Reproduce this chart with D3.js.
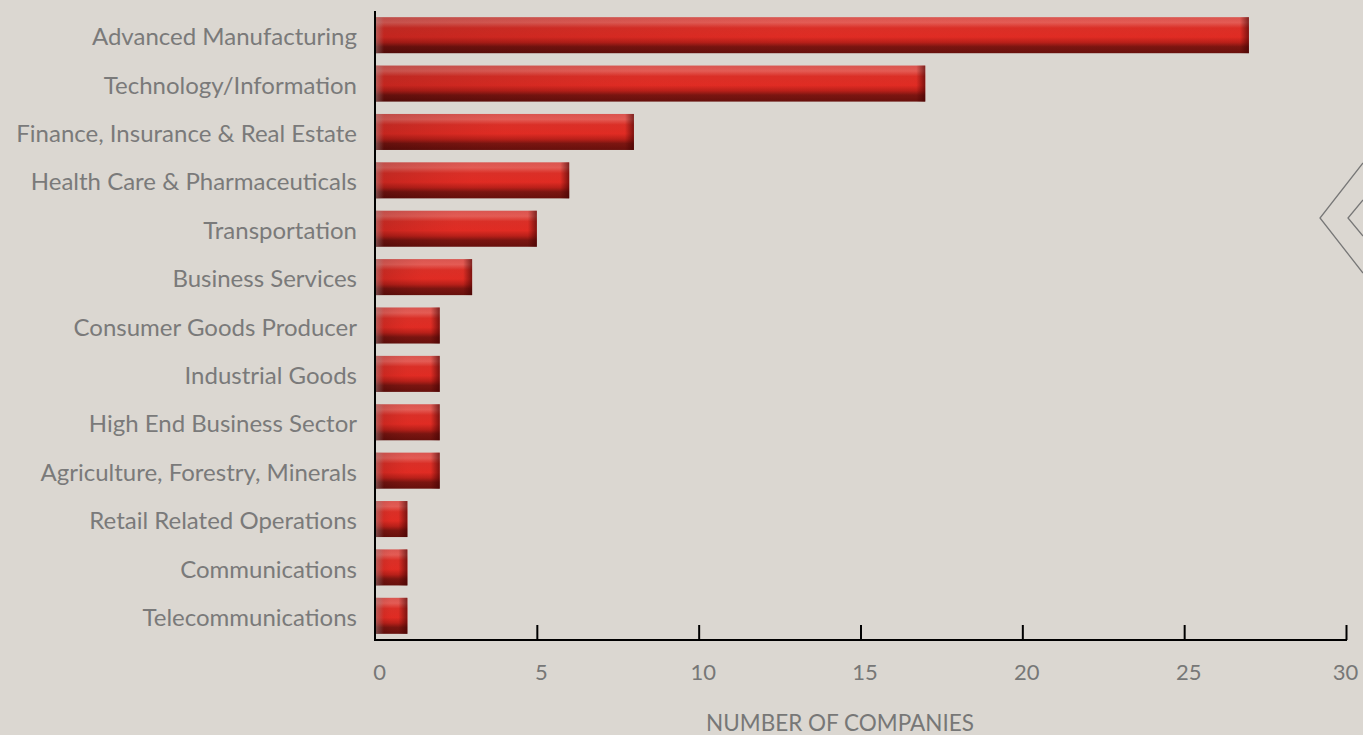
<!DOCTYPE html>
<html>
<head>
<meta charset="utf-8">
<script src="https://cdn.jsdelivr.net/npm/d3@7"></script>
<style>
  html, body { margin: 0; padding: 0; background: #dbd7d1; }
  svg { display: block; }
  text { font-family: Lato, "Open Sans", sans-serif; }
</style>
</head>
<body>
<svg id="chart" width="1363" height="735"></svg>
<script>
// Companies by industry sector
const categories = [
  "Advanced Manufacturing",
  "Technology/Information",
  "Finance, Insurance & Real Estate",
  "Health Care & Pharmaceuticals",
  "Transportation",
  "Business Services",
  "Consumer Goods Producer",
  "Industrial Goods",
  "High End Business Sector",
  "Agriculture, Forestry, Minerals",
  "Retail Related Operations",
  "Communications",
  "Telecommunications"
];
const companies = [27, 17, 8, 6, 5, 3, 2, 2, 2, 2, 1, 1, 1];
const xTicks = [0, 5, 10, 15, 20, 25, 30];
const xTitle = "NUMBER OF COMPANIES";

const svg = d3.select("#chart");
const W = 1363, H = 735;
const plotLeft = 375, plotRight = 1346, plotTop = 11, plotBottom = 640;

svg.append("rect").attr("width", W).attr("height", H).attr("fill", "#dbd7d1");

const x = d3.scaleLinear().domain([0, 30]).range([plotLeft, plotRight]);
const y = d3.scaleBand().domain(categories).range([plotTop, plotBottom])
  .paddingInner(0.256).paddingOuter(0.128);

// Gradients giving the bars their rounded, beveled look
const defs = svg.append("defs");
const vg = defs.append("linearGradient").attr("id", "barV")
  .attr("x1", 0).attr("y1", 0).attr("x2", 0).attr("y2", 1);
[[0, "#d55a55"], [0.15, "#e0625b"], [0.3, "#d63028"], [0.55, "#dc2c24"],
 [0.7, "#b01f19"], [0.82, "#6a130f"], [1, "#540d0a"]]
  .forEach(([o, c]) => vg.append("stop").attr("offset", o).attr("stop-color", c));

const hg = defs.append("linearGradient").attr("id", "barH")
  .attr("x1", 0).attr("y1", 0).attr("x2", 1).attr("y2", 0);
[[0, "rgba(60,0,0,0.16)"], [0.5, "rgba(255,40,30,0.10)"], [1, "rgba(255,40,30,0.12)"]]
  .forEach(([o, c]) => hg.append("stop").attr("offset", o).attr("stop-color", c));

const lg = defs.append("linearGradient").attr("id", "edgeL")
  .attr("x1", 0).attr("y1", 0).attr("x2", 1).attr("y2", 0);
[[0, "rgba(170,150,150,0.5)"], [1, "rgba(170,150,150,0)"]]
  .forEach(([o, c]) => lg.append("stop").attr("offset", o).attr("stop-color", c));

const rg = defs.append("linearGradient").attr("id", "edgeR")
  .attr("x1", 0).attr("y1", 0).attr("x2", 1).attr("y2", 0);
[[0, "rgba(60,0,0,0)"], [1, "rgba(60,0,0,0.6)"]]
  .forEach(([o, c]) => rg.append("stop").attr("offset", o).attr("stop-color", c));

const bars = svg.append("g").selectAll("g")
  .data(categories.map((c, i) => ({ c, v: companies[i] })))
  .join("g");

bars.append("rect")
  .attr("x", x(0)).attr("y", d => y(d.c))
  .attr("width", d => x(d.v) - x(0)).attr("height", y.bandwidth())
  .attr("fill", "url(#barV)");
bars.append("rect")
  .attr("x", x(0)).attr("y", d => y(d.c))
  .attr("width", d => x(d.v) - x(0)).attr("height", y.bandwidth())
  .attr("fill", "url(#barH)");
bars.append("rect")
  .attr("x", x(0)).attr("y", d => y(d.c))
  .attr("width", 9).attr("height", y.bandwidth())
  .attr("fill", "url(#edgeL)");
bars.append("rect")
  .attr("x", d => x(d.v) - 9).attr("y", d => y(d.c))
  .attr("width", 9).attr("height", y.bandwidth())
  .attr("fill", "url(#edgeR)");

// Category labels
svg.append("g").selectAll("text")
  .data(categories).join("text")
  .attr("x", 357).attr("y", d => y(d) + y.bandwidth() / 2)
  .attr("dy", "0.42em").attr("text-anchor", "end")
  .attr("font-size", 24).attr("fill", "#7a7a7a")
  .text(d => d);

// Axes
svg.append("line")
  .attr("x1", x(0)).attr("x2", x(0)).attr("y1", plotTop).attr("y2", plotBottom + 1)
  .attr("stroke", "#000").attr("stroke-width", 2);
svg.append("line")
  .attr("x1", x(0) - 1).attr("x2", x(30) + 1).attr("y1", plotBottom).attr("y2", plotBottom)
  .attr("stroke", "#000").attr("stroke-width", 2);

const xAxis = svg.append("g").attr("transform", `translate(0,${plotBottom})`)
  .call(d3.axisBottom(x).tickValues(xTicks).tickSize(0).tickPadding(24));
xAxis.select(".domain").remove();
xAxis.selectAll(".tick line").remove();
xAxis.selectAll(".tick").filter(d => d > 0).append("line")
  .attr("y1", 0).attr("y2", -15).attr("stroke", "#000").attr("stroke-width", 2);
xAxis.selectAll(".tick text")
  .attr("font-family", "Lato, 'Open Sans', sans-serif")
  .attr("font-size", 22).attr("fill", "#777")
  .attr("dx", d => (d === 30 ? -1 : 4));

svg.append("text")
  .attr("x", 840).attr("y", 731).attr("text-anchor", "middle")
  .attr("font-size", 22.5).attr("fill", "#777")
  .text(xTitle);

// Decorative chevrons at the right edge
const chev = svg.append("g").attr("fill", "none").attr("stroke", "#777").attr("stroke-width", 1.3);
chev.append("polyline").attr("points", "1363,163 1320,218 1363,273");
chev.append("polyline").attr("points", "1363,200 1348,218 1363,236");
</script>
</body>
</html>
